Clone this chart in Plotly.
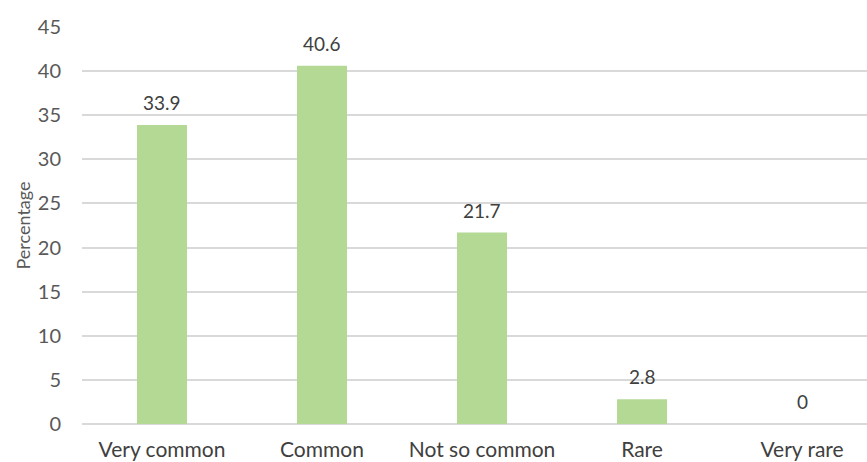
import plotly.graph_objects as go

categories = ["Very common", "Common", "Not so common", "Rare", "Very rare"]
percentages = [33.9, 40.6, 21.7, 2.8, 0]
y_ticks = [0, 5, 10, 15, 20, 25, 30, 35, 40, 45]

FONT = "Lato, 'Open Sans', sans-serif"
x_pos = list(range(len(categories)))

fig = go.Figure(
    go.Bar(
        x=x_pos,
        y=percentages,
        width=0.3125,
        marker=dict(color="#b3d995", line=dict(width=0)),
        hoverinfo="skip",
    )
)

# value labels sitting a little above each bar
for xi, v in zip(x_pos, percentages):
    fig.add_annotation(
        x=xi,
        y=v,
        text=f"{v:g}",
        showarrow=False,
        yanchor="bottom",
        yshift=9,
        font=dict(family=FONT, size=19, color="#404040"),
    )

fig.update_layout(
    width=867,
    height=462,
    margin=dict(l=82, r=0, t=27, b=38),
    paper_bgcolor="white",
    plot_bgcolor="white",
    showlegend=False,
    font=dict(family=FONT, color="#595959"),
)

fig.update_xaxes(
    range=[-0.5, 4.406],
    tickmode="array",
    tickvals=x_pos,
    ticktext=categories,
    tickfont=dict(family=FONT, size=21, color="#404040"),
    showgrid=False,
    showline=False,
    zeroline=False,
    ticks="",
    ticklabelstandoff=11,
    automargin=False,
)

fig.update_yaxes(
    range=[0, 45],
    tickmode="array",
    tickvals=y_ticks,
    tickfont=dict(family=FONT, size=20, color="#595959"),
    showgrid=True,
    gridcolor="#d9d9d9",
    gridwidth=1.5,
    zeroline=True,
    zerolinecolor="#d9d9d9",
    zerolinewidth=1.5,
    showline=False,
    ticks="",
    ticklabelstandoff=20,
    automargin=False,
    title=dict(
        text="Percentage",
        font=dict(family=FONT, size=18, color="#595959"),
        standoff=2,
    ),
)

fig.write_html("out.html")
